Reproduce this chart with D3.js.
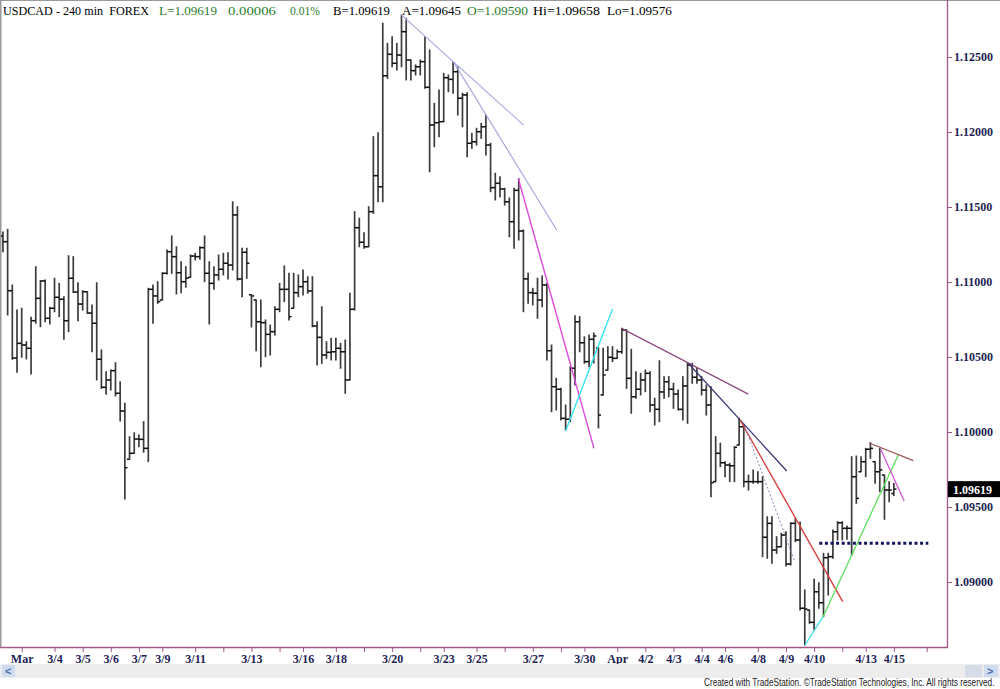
<!DOCTYPE html>
<html><head><meta charset="utf-8">
<script src="https://cdn.jsdelivr.net/npm/d3@7/dist/d3.min.js"></script>
<style>body{margin:0;background:#fff;overflow:hidden}svg{display:block}</style>
</head><body>
<svg id="c" width="1000" height="689"></svg>
<script>
// ---------- DATA (USDCAD 240 min) ----------
const barHigh = [1.11333,1.11351,1.10980,1.10813,1.10825,1.10602,1.10765,1.11102,1.11009,1.11013,
1.10831,1.11025,1.10991,1.10902,1.11175,1.11169,1.10995,1.10942,1.10935,1.10847,
1.10995,1.10547,1.10402,1.10413,1.10462,1.10335,1.10191,1.09969,1.09995,1.09980,
1.10069,1.10958,1.10980,1.11002,1.11062,1.11213,1.11307,1.11235,1.11135,1.11102,
1.11180,1.11191,1.11235,1.11307,1.11135,1.11102,1.11180,1.11191,1.11195,1.11535,
1.11502,1.11225,1.11225,1.10915,1.10880,1.10880,1.10747,1.10713,1.10835,1.10991,
1.11107,1.11058,1.11058,1.11047,1.11080,1.11035,1.11035,1.10735,1.10835,1.10602,
1.10625,1.10625,1.10591,1.10613,1.10925,1.11469,1.11425,1.11329,1.11502,1.11969,
1.11995,1.12725,1.12591,1.12635,1.12591,1.12780,1.12758,1.12480,1.12447,1.12480,
1.12635,1.12547,1.12191,1.12280,1.12391,1.12380,1.12469,1.12435,1.12258,1.12262,
1.11991,1.12025,1.12058,1.12113,1.11925,1.11725,1.11702,1.11625,1.11560,1.11625,
1.11688,1.11347,1.11058,1.10958,1.11025,1.11040,1.10991,1.10580,1.10358,1.10291,
1.10180,1.10435,1.10775,1.10769,1.10635,1.10647,1.10660,1.10560,1.10558,1.10569,
1.10569,1.10547,1.10691,1.10680,1.10551,1.10402,1.10391,1.10413,1.10402,1.10225,
1.10475,1.10369,1.10369,1.10325,1.10280,1.10369,1.10458,1.10458,1.10425,1.10369,
1.10313,1.10302,1.09969,1.09925,1.09802,1.09791,1.09902,1.10091,1.10047,1.09713,
1.09747,1.09735,1.09702,1.09435,1.09435,1.09302,1.09325,1.09335,1.09395,1.09425,
1.09400,1.08947,1.08813,1.09018,1.08995,1.09191,1.09191,1.09347,1.09402,1.09402,
1.09373,1.09835,1.09840,1.09835,1.09891,1.09929,1.09802,1.09891,1.09713,1.09669,
1.09658];
const barLow = [1.11202,1.10780,1.10485,1.10398,1.10498,1.10487,1.10387,1.10725,1.10702,1.10735,
1.10720,1.10802,1.10769,1.10618,1.10669,1.10930,1.10742,1.10813,1.10791,1.10535,
1.10347,1.10291,1.10251,1.10280,1.10240,1.10073,1.09553,1.09818,1.09858,1.09902,
1.09865,1.09802,1.10725,1.10858,1.10880,1.11053,1.11058,1.10920,1.10929,1.10965,
1.11031,1.11147,1.11151,1.11002,1.10720,1.10951,1.11013,1.11047,1.11020,1.11080,
1.11013,1.10902,1.11025,1.10700,1.10542,1.10435,1.10502,1.10513,1.10647,1.10802,
1.10869,1.10747,1.10825,1.10902,1.10913,1.10925,1.10702,1.10447,1.10458,1.10491,
1.10480,1.10480,1.10425,1.10258,1.10347,1.10813,1.11235,1.11225,1.11235,1.11458,
1.11535,1.11535,1.12358,1.12435,1.12413,1.12435,1.12347,1.12347,1.12380,1.12380,
1.12291,1.11735,1.11902,1.11969,1.12069,1.12269,1.12258,1.12113,1.12035,1.11835,
1.11891,1.11913,1.11958,1.11847,1.11602,1.11547,1.11569,1.11513,1.11302,1.11225,
1.11280,1.10802,1.10858,1.10847,1.10758,1.10835,1.10480,1.10135,1.10147,1.10080,
1.10013,1.10069,1.10313,1.10535,1.10458,1.10435,1.10460,1.10027,1.10247,1.10413,
1.10469,1.10491,1.10525,1.10291,1.10125,1.10225,1.10247,1.10269,1.10135,1.10047,
1.10069,1.10225,1.10235,1.10158,1.10147,1.10080,1.10058,1.10325,1.10325,1.10247,
1.10113,1.09569,1.09669,1.09769,1.09702,1.09669,1.09669,1.09913,1.09635,1.09613,
1.09658,1.09658,1.09169,1.09158,1.09125,1.09191,1.09235,1.09107,1.09113,1.09269,
1.08813,1.08580,1.08725,1.08680,1.08825,1.08769,1.08913,1.09158,1.09280,1.09280,
1.09285,1.09180,1.09525,1.09735,1.09702,1.09825,1.09658,1.09602,1.09418,1.09535,
1.09576];
const barOpen = [1.11307,1.11269,1.10942,1.10493,1.10591,1.10580,1.10558,1.10742,1.10891,1.11007,
1.10758,1.10825,1.10898,1.10885,1.10742,1.11025,1.10933,1.10853,1.10935,1.10793,
1.10725,1.10485,1.10298,1.10347,1.10409,1.10258,1.10140,1.09818,1.09858,1.09953,
1.09951,1.09891,1.10951,1.10907,1.10880,1.11058,1.11202,1.11169,1.11062,1.11002,
1.11031,1.11173,1.11169,1.11229,1.11058,1.10991,1.11047,1.11085,1.11125,1.11113,
1.11447,1.11020,1.11198,1.10915,1.10880,1.10735,1.10729,1.10651,1.10669,1.10818,
1.10951,1.10951,1.10825,1.10929,1.10969,1.11002,1.10940,1.10707,1.10631,1.10513,
1.10531,1.10535,1.10558,1.10535,1.10347,1.10818,1.11362,1.11265,1.11235,1.11469,
1.11709,1.11635,1.12375,1.12518,1.12458,1.12513,1.12669,1.12480,1.12409,1.12435,
1.12469,1.12298,1.12047,1.12062,1.12069,1.12362,1.12351,1.12402,1.12225,1.12247,
1.11925,1.11935,1.12002,1.12035,1.11913,1.11629,1.11658,1.11620,1.11535,1.11402,
1.11611,1.11340,1.11021,1.10929,1.10925,1.10880,1.10980,1.10542,1.10302,1.10285,
1.10091,1.10085,1.10425,1.10735,1.10595,1.10469,1.10618,1.10560,1.10247,1.10413,
1.10498,1.10491,1.10535,1.10680,1.10358,1.10235,1.10285,1.10347,1.10391,1.10180,
1.10151,1.10267,1.10335,1.10285,1.10253,1.10151,1.10307,1.10447,1.10365,1.10347,
1.10280,1.10180,1.09669,1.09858,1.09795,1.09780,1.09775,1.09913,1.10035,1.09669,
1.09669,1.09669,1.09669,1.09298,1.09391,1.09213,1.09235,1.09313,1.09120,1.09391,
1.09280,1.08825,1.08813,1.08731,1.08935,1.08862,1.09162,1.09169,1.09335,1.09395,
1.09358,1.09358,1.09702,1.09735,1.09802,1.09885,1.09802,1.09735,1.09713,1.09613,
1.09590];
const barClose = [1.11269,1.10942,1.10493,1.10591,1.10580,1.10558,1.10742,1.10891,1.11007,1.10758,
1.10825,1.10898,1.10885,1.10742,1.11025,1.10933,1.10853,1.10935,1.10793,1.10725,
1.10485,1.10298,1.10347,1.10409,1.10258,1.10140,1.09762,1.09858,1.09953,1.09951,
1.09891,1.10951,1.10907,1.10869,1.11058,1.11202,1.11169,1.11062,1.11002,1.11025,
1.11173,1.11169,1.11229,1.11058,1.10991,1.11047,1.11085,1.11125,1.11113,1.11447,
1.11020,1.11198,1.11125,1.10907,1.10735,1.10729,1.10651,1.10669,1.10818,1.10951,
1.10951,1.10769,1.10929,1.10969,1.11002,1.10940,1.10707,1.10631,1.10513,1.10531,
1.10535,1.10558,1.10535,1.10347,1.10818,1.11362,1.11265,1.11235,1.11469,1.11709,
1.11635,1.12375,1.12518,1.12458,1.12513,1.12669,1.12480,1.12409,1.12435,1.12469,
1.12298,1.12047,1.12062,1.12069,1.12362,1.12351,1.12402,1.12225,1.12247,1.11925,
1.11935,1.12002,1.12035,1.11913,1.11629,1.11658,1.11620,1.11535,1.11402,1.11611,
1.11340,1.11021,1.10929,1.10925,1.10880,1.10980,1.10542,1.10302,1.10285,1.10091,
1.10085,1.10425,1.10735,1.10595,1.10469,1.10618,1.10640,1.10113,1.10380,1.10498,
1.10491,1.10535,1.10680,1.10358,1.10235,1.10285,1.10347,1.10391,1.10180,1.10151,
1.10267,1.10335,1.10285,1.10253,1.10151,1.10307,1.10447,1.10365,1.10347,1.10280,
1.10180,1.09662,1.09858,1.09795,1.09780,1.09775,1.09898,1.10035,1.09669,1.09669,
1.09669,1.09669,1.09298,1.09391,1.09213,1.09235,1.09313,1.09120,1.09391,1.09280,
1.08825,1.08820,1.08731,1.08935,1.08862,1.09162,1.09169,1.09335,1.09395,1.09358,
1.09358,1.09702,1.09558,1.09802,1.09885,1.09891,1.09735,1.09747,1.09613,1.09613,
1.09619];

// date ticks: bar index and label
const dateTickIdx = [4,11,17,23,29,34,41,47,53,59,64,71,77,83,89,94,101,107,113,119,124,131,137,143,149,154,161,167,173,179,184,190,197];
const dateTickLabels = ["Mar","3/4","3/5","3/6","3/7","3/9","3/11","","3/13","","3/16","3/18","","3/20","","3/23","3/25","","3/27","","3/30","Apr","4/2","4/3","4/4","4/6","4/8","4/9","4/10","","4/13","4/15",""];
const priceTicks = [1.09000,1.09500,1.10000,1.10500,1.11000,1.11500,1.12000,1.12500];

// drawn trendlines: [barIndex1, price1, barIndex2, price2]
const trendLines = [
  [85.0,1.12780,111.0,1.12047],
  [96.05,1.12469,118.1,1.11347],
  [109.9,1.11691,126.05,1.09891],
  [120.0,1.10007,130.0,1.10820],
  [131.96,1.10691,158.96,1.10253],
  [146.16,1.10458,167.15,1.09740],
  [157.2,1.10080,179.1,1.08869],
  [158.25,1.10035,168.9,1.09135],
  [171.05,1.08580,174.9,1.08769],
  [174.9,1.08769,190.95,1.09847],
  [184.9,1.09925,194.15,1.09809],
  [187.2,1.09885,192.2,1.09540]
];
const supportLine = [174.1,197.35,1.09258];

const header = [
  {t:"USDCAD - 240 min  FOREX", c:"#000"},
  {t:"L=1.09619", c:"#2a7d2a"},
  {t:"0.00006", c:"#2a7d2a"},
  {t:"0.01%", c:"#2a7d2a"},
  {t:"B=1.09619", c:"#000"},
  {t:"A=1.09645", c:"#000"},
  {t:"O=1.09590", c:"#2a7d2a"},
  {t:"Hi=1.09658", c:"#000"},
  {t:"Lo=1.09576", c:"#000"}
];
const lastPrice = 1.09619;

// ---------- DRAW ----------
const svg = d3.select("#c");
const W = 1000, H = 689, axisX = 947, axisY = 647;
const x = d3.scaleLinear().domain([0,190]).range([2.94, 2.94+190*4.689]);
const y = d3.scaleLinear().domain([1.09,1.125]).range([582,57]);
const serif = "'Liberation Serif','DejaVu Serif',serif";
const axisCol = "#a0588a", labCol = "#1e1e55";

// place a text at (px,py) and squeeze it horizontally to a target width
function fitText(parent, px, py, width, str, attrs){
  const g = parent.append("g");
  const t = g.append("text").attr("x",0).attr("y",0).attr("xml:space","preserve")
    .style("white-space","pre").text(str);
  Object.entries(attrs).forEach(([k,v])=>t.attr(k,v));
  const nat = t.node().getComputedTextLength() || width;
  g.attr("transform",`translate(${px},${py}) scale(${Math.min(1.15,width/nat)},1)`);
  return t;
}

svg.append("rect").attr("width",W).attr("height",H).attr("fill","#fff");
// borders
svg.append("line").attr("x1",0).attr("x2",W).attr("y1",0.5).attr("y2",0.5).attr("stroke","#9a9a9a");
svg.append("line").attr("x1",0.5).attr("x2",0.5).attr("y1",0).attr("y2",axisY).attr("stroke","#9a9a9a").attr("stroke-width",2);

// header (positions / widths measured on the reference)
const hx = [3,159,228,290,333,402,467,533,607];
const hw = [146,58,48,30,57,59,61,67,65];
const hg = svg.append("g");
header.forEach((d,i)=>fitText(hg, hx[i], 15, hw[i], d.t,
  {"fill":d.c, "font-family":serif, "font-size":13.5}));

svg.append("clipPath").attr("id","pc").append("rect")
  .attr("x",1).attr("y",2).attr("width",axisX-1).attr("height",axisY-2);
const plot = svg.append("g").attr("clip-path","url(#pc)");

const idx = d3.range(barHigh.length);
const bars = plot.append("g");
bars.selectAll("line.hl").data(idx).join("line").attr("class","hl")
  .attr("x1",i=>x(i)).attr("x2",i=>x(i))
  .attr("y1",i=>y(barHigh[i])-0.5).attr("y2",i=>y(barLow[i])+0.5)
  .attr("stroke","#3c3c3c").attr("stroke-width",1.7);
bars.selectAll("line.op").data(idx).join("line").attr("class","op")
  .attr("x1",i=>x(i)-2.6).attr("x2",i=>x(i))
  .attr("y1",i=>y(barOpen[i])).attr("y2",i=>y(barOpen[i]))
  .attr("stroke","#111").attr("stroke-width",1.5);
bars.selectAll("line.cl").data(idx).join("line").attr("class","cl")
  .attr("x1",i=>x(i)).attr("x2",i=>x(i)+2.6)
  .attr("y1",i=>y(barClose[i])).attr("y2",i=>y(barClose[i]))
  .attr("stroke","#111").attr("stroke-width",1.5);

// trendlines
const tStyle = [
  {c:"#b4b4e2",w:1.2},{c:"#a8a8e0",w:1.2},{c:"#dc48dc",w:1.4},{c:"#38e4f0",w:1.4},
  {c:"#8c4c7e",w:1.3},{c:"#3a3a78",w:1.3},{c:"#d84040",w:1.4},{c:"#8888bb",w:1,d:"2,2"},
  {c:"#40e0e8",w:1.3},{c:"#5ee05e",w:1.3},{c:"#985656",w:1.3},{c:"#d458d4",w:1.3}
];
plot.selectAll("line.tl").data(trendLines).join("line").attr("class","tl")
  .attr("x1",d=>x(d[0])).attr("y1",d=>y(d[1])).attr("x2",d=>x(d[2])).attr("y2",d=>y(d[3]))
  .attr("stroke",(d,i)=>tStyle[i].c).attr("stroke-width",(d,i)=>tStyle[i].w)
  .attr("stroke-dasharray",(d,i)=>tStyle[i].d||null);
plot.append("line").attr("x1",x(supportLine[0])).attr("x2",x(supportLine[1]))
  .attr("y1",y(supportLine[2])).attr("y2",y(supportLine[2]))
  .attr("stroke","#14145e").attr("stroke-width",3).attr("stroke-dasharray","3,2.6");

// right price axis
const yAxis = svg.append("g").attr("transform",`translate(${axisX},0)`)
  .call(d3.axisRight(y).tickValues(priceTicks).tickFormat(d3.format(".5f")).tickSize(5).tickPadding(2));
yAxis.select(".domain").remove();
yAxis.selectAll(".tick line").attr("stroke",axisCol);
yAxis.selectAll(".tick text").attr("fill",labCol).attr("font-family",serif)
  .attr("font-size",12).attr("font-weight","bold");
svg.append("line").attr("x1",axisX+0.5).attr("x2",axisX+0.5).attr("y1",0).attr("y2",axisY+1)
  .attr("stroke",axisCol).attr("stroke-width",1.3);

// last price marker
const lp = svg.append("g").attr("transform",`translate(${axisX+1},${y(lastPrice)})`);
lp.append("rect").attr("x",0).attr("y",-8).attr("width",W-axisX).attr("height",16).attr("fill","#000");
lp.append("text").attr("x",5).attr("y",4.5).attr("fill","#fff").attr("font-family",serif)
  .attr("font-size",12).attr("font-weight","bold").text(d3.format(".5f")(lastPrice));

// bottom date axis
const xAxis = svg.append("g").attr("transform",`translate(0,${axisY})`)
  .call(d3.axisBottom(x).tickValues(dateTickIdx).tickFormat((d,i)=>dateTickLabels[i]).tickSize(5).tickPadding(2));
xAxis.select(".domain").remove();
xAxis.selectAll(".tick line").attr("stroke",axisCol);
xAxis.selectAll(".tick text").attr("fill",labCol).attr("font-family",serif)
  .attr("font-size",12).attr("font-weight","bold");
svg.append("line").attr("x1",0).attr("x2",axisX+1).attr("y1",axisY+0.5).attr("y2",axisY+0.5)
  .attr("stroke",axisCol).attr("stroke-width",1.3);

// scrollbar strip
svg.append("rect").attr("x",0).attr("y",664).attr("width",W).attr("height",14).attr("fill","#ededed");
svg.append("rect").attr("x",2).attr("y",665).attr("width",13).attr("height",12).attr("fill","#cfdcf0");
svg.append("text").attr("x",5).attr("y",675).attr("fill","#4a6aa8").attr("font-family","'Liberation Sans',sans-serif").attr("font-size",11).attr("font-weight","bold").text("<");
svg.append("rect").attr("x",965).attr("y",665).attr("width",17).attr("height",12).attr("fill","#d6dde8");
svg.append("rect").attr("x",984).attr("y",665).attr("width",14).attr("height",12).attr("fill","#cfdcf0");
svg.append("text").attr("x",987).attr("y",675).attr("fill","#4a6aa8").attr("font-family","'Liberation Sans',sans-serif").attr("font-size",11).attr("font-weight","bold").text(">");

fitText(svg, 704, 686, 291, "Created with TradeStation. \u00A9TradeStation Technologies, Inc. All rights reserved.",
  {"font-family":"'Liberation Sans',Arial,sans-serif", "font-size":10.5, "fill":"#222"});
</script>
</body></html>
